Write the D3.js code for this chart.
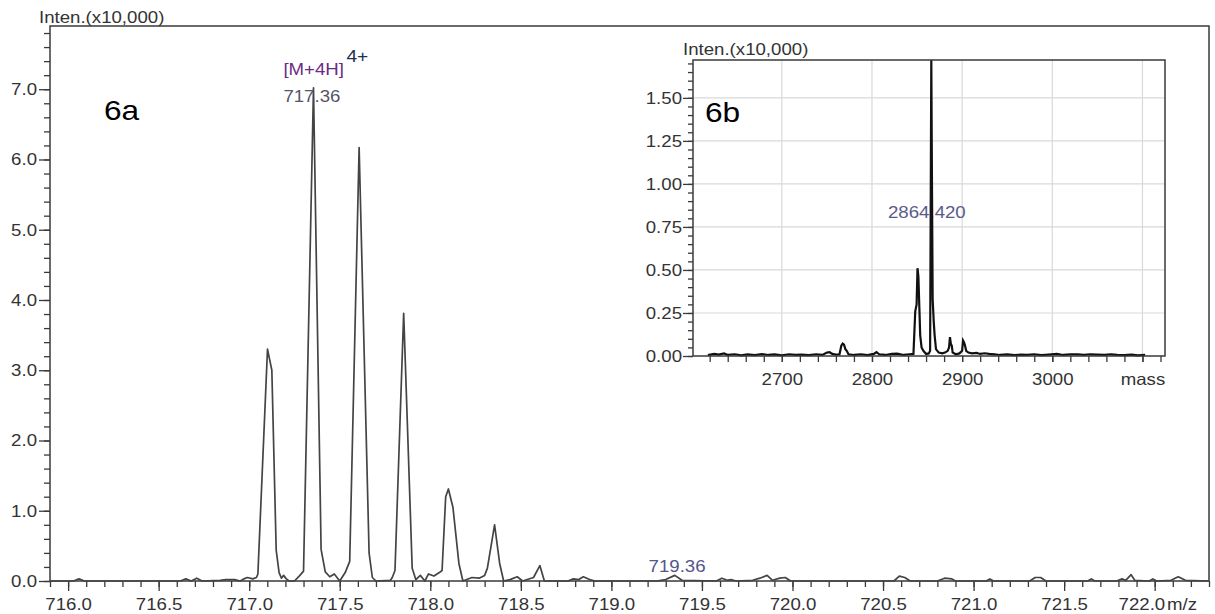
<!DOCTYPE html>
<html>
<head>
<meta charset="utf-8">
<script src="https://cdn.jsdelivr.net/npm/d3@7"></script>
<style>
  html, body { margin: 0; padding: 0; background: #fff; }
  svg { display: block; }
  text { font-family: "Liberation Sans", Arial, sans-serif; }
</style>
</head>
<body>
<svg id="chart" width="1215" height="614"></svg>
<script>
// ---------------- DATA ----------------
// Main spectrum 6a: [m/z, intensity (x10,000)]
const mainSpectrum = [
  [715.90,0.00],[716.03,0.00],[716.06,0.03],[716.09,0.00],[716.62,0.00],[716.65,0.03],
  [716.68,0.00],[716.71,0.04],[716.74,0.00],[716.84,0.01],[716.87,0.02],[716.92,0.02],
  [716.95,0.00],[716.97,0.03],[716.99,0.05],[717.02,0.03],[717.04,0.05],[717.048,0.10],
  [717.101,3.30],[717.125,3.00],[717.149,0.44],[717.165,0.12],[717.178,0.04],[717.19,0.08],
  [717.205,0.03],[717.22,0.00],[717.25,0.00],[717.28,0.08],[717.30,0.14],[717.355,7.02],
  [717.397,0.45],[717.42,0.13],[717.445,0.06],[717.47,0.10],[717.50,0.00],[717.53,0.12],
  [717.555,0.28],[717.607,6.17],[717.662,0.40],[717.68,0.05],[717.70,0.00],[717.78,0.01],
  [717.79,0.05],[717.805,0.15],[717.853,3.81],[717.90,0.18],[717.92,0.02],[717.945,0.08],
  [717.97,0.00],[717.99,0.10],[718.02,0.07],[718.05,0.12],[718.065,0.15],[718.085,1.20],
  [718.10,1.31],[718.125,1.05],[718.158,0.25],[718.18,0.00],[718.23,0.05],[718.27,0.04],
  [718.30,0.08],[718.315,0.18],[718.355,0.80],[718.383,0.25],[718.405,0.00],[718.44,0.02],
  [718.48,0.06],[718.51,0.00],[718.57,0.05],[718.605,0.22],[718.63,0.00],[718.76,0.00],
  [718.79,0.03],[718.82,0.02],[718.845,0.06],[718.88,0.02],[718.91,0.00],[719.25,0.00],
  [719.30,0.02],[719.35,0.08],[719.39,0.01],[719.58,0.00],[719.61,0.04],[719.64,0.01],
  [719.66,0.02],[719.69,0.00],[719.78,0.01],[719.82,0.04],[719.86,0.08],[719.89,0.01],
  [719.93,0.04],[719.96,0.05],[719.99,0.00],[720.56,0.00],[720.59,0.07],[720.62,0.05],
  [720.65,0.00],[720.80,0.00],[720.84,0.04],[720.88,0.03],[720.90,0.00],[721.07,0.00],
  [721.09,0.03],[721.11,0.00],[721.31,0.00],[721.34,0.05],[721.37,0.05],[721.40,0.00],
  [721.63,0.00],[721.65,0.03],[721.67,0.00],[721.79,0.00],[721.82,0.03],[721.84,0.01],
  [721.87,0.09],[721.89,0.01],[721.97,0.00],[721.99,0.03],[722.01,0.00],[722.09,0.01],
  [722.13,0.06],[722.17,0.01],[722.30,0.00]
];
const mainXDomain = [715.90, 722.30];
const mainYDomain = [0, 7.9];
const mainXMajor = [716.0,716.5,717.0,717.5,718.0,718.5,719.0,719.5,720.0,720.5,721.0,721.5,722.0];
const mainYMajor = [0,1,2,3,4,5,6,7];
const mainPeakLabels = [
  {x: 717.36, y: 7.02, text: "717.36"},
  {x: 719.36, y: 0.08, text: "719.36"}
];

// Inset spectrum 6b: [mass, intensity (x10,000)]
const insetSpectrum = [
  [2618,0.005],[2625,0.012],[2630,0.008],[2636,0.015],[2640,0.006],[2648,0.010],[2655,0.004],
  [2662,0.009],[2670,0.005],[2678,0.011],[2685,0.006],[2692,0.009],[2700,0.004],[2708,0.010],
  [2715,0.006],[2722,0.008],[2730,0.005],[2738,0.010],[2745,0.006],[2750,0.020],[2753,0.022],
  [2756,0.012],[2760,0.008],[2764,0.010],[2766,0.060],[2767.5,0.072],[2769,0.066],[2770.5,0.040],
  [2772,0.030],[2774,0.010],[2780,0.006],[2788,0.010],[2795,0.005],[2802,0.012],[2805,0.022],
  [2808,0.010],[2815,0.006],[2822,0.012],[2828,0.014],[2835,0.006],[2842,0.010],[2846,0.012],
  [2848,0.26],[2849.5,0.30],[2850.5,0.51],[2851.5,0.46],[2852.5,0.29],[2853.5,0.12],[2855,0.05],
  [2857,0.03],[2860,0.012],[2863,0.015],[2864.5,0.03],[2865.8,1.72],[2866.6,0.95],[2867.3,0.33],
  [2868.5,0.20],[2869.5,0.12],[2871,0.04],[2874,0.02],[2878,0.015],[2881,0.02],[2884,0.03],
  [2885.5,0.05],[2886.5,0.11],[2887.5,0.07],[2888.5,0.06],[2889.5,0.02],[2893,0.01],[2897,0.015],
  [2900,0.03],[2901,0.09],[2902,0.08],[2903,0.065],[2904.5,0.03],[2907,0.02],[2911,0.015],
  [2916,0.018],[2920,0.012],[2925,0.016],[2930,0.012],[2936,0.010],[2942,0.006],[2950,0.009],
  [2958,0.005],[2965,0.008],[2972,0.006],[2980,0.010],[2988,0.005],[2996,0.008],[3005,0.012],
  [3012,0.006],[3020,0.009],[3028,0.010],[3035,0.006],[3042,0.010],[3050,0.008],[3058,0.006],
  [3065,0.010],[3072,0.007],[3080,0.005],[3088,0.008],[3095,0.004],[3103,0.006]
];
const insetXDomain = [2601.5, 3125];
const insetYDomain = [0, 1.72];
const insetXMajor = [2700, 2800, 2900, 3000, 3100];
const insetYMajor = [0, 0.25, 0.5, 0.75, 1.0, 1.25, 1.5];
const insetPeakLabel = {x: 2865.8, text: "2864.420"};

// ---------------- DRAWING ----------------
const SX = 1.13;           // horizontal text stretch of the original rendering
const FS = 16.5;
const svg = d3.select("#chart");
const axisColor = "#3a3a3a";

function txt(g, x, y, s, o = {}) {
  return g.append("text")
    .attr("transform", `translate(${x},${y}) scale(${o.sx || SX},1)`)
    .attr("text-anchor", o.anchor || "start")
    .attr("font-size", o.size || FS)
    .attr("fill", o.fill || "#333")
    .text(s);
}

// ---- main chart ----
const M = {left: 50, right: 1209, top: 26, bottom: 581};
const x = d3.scaleLinear().domain(mainXDomain).range([M.left, M.right]);
const y = d3.scaleLinear().domain(mainYDomain).range([M.bottom, M.top]);

const mainG = svg.append("g");

// minor ticks
const xMinor = d3.range(7159, 7224).map(v => v / 10).filter(v => v >= mainXDomain[0] && v <= mainXDomain[1]);
mainG.append("g").attr("transform", `translate(0,${M.bottom})`)
  .call(d3.axisBottom(x).tickValues(xMinor).tickSize(6).tickFormat(""))
  .call(g => g.select(".domain").remove());
const yMinor = d3.range(0, 40).map(v => v * 0.2).filter(v => v <= mainYDomain[1]);
mainG.append("g").attr("transform", `translate(${M.left},0)`)
  .call(d3.axisLeft(y).tickValues(yMinor).tickSize(6).tickFormat(""))
  .call(g => g.select(".domain").remove());

// major axes
const xAx = mainG.append("g").attr("transform", `translate(0,${M.bottom})`)
  .call(d3.axisBottom(x).tickValues(mainXMajor).tickSize(10).tickPadding(7).tickFormat(d3.format(".1f")))
  .call(g => g.select(".domain").remove());
xAx.selectAll("text").attr("font-size", FS).attr("fill", "#333")
  .attr("transform", `scale(${SX},1)`)
  .attr("font-family", "Liberation Sans, Arial, sans-serif");
xAx.selectAll(".tick").filter(d => d === 722.0).select("text")
  .attr("text-anchor", "end").attr("x", 10 / SX);

const yAx = mainG.append("g").attr("transform", `translate(${M.left},0)`)
  .call(d3.axisLeft(y).tickValues(mainYMajor).tickSize(11).tickPadding(2).tickFormat(d3.format(".1f")))
  .call(g => g.select(".domain").remove());
yAx.selectAll("text").attr("font-size", FS).attr("fill", "#333")
  .attr("x", -13 / SX).attr("transform", `scale(${SX},1)`)
  .attr("font-family", "Liberation Sans, Arial, sans-serif");

mainG.selectAll(".tick line").attr("stroke", axisColor).attr("stroke-width", 1.3);

// frame
mainG.append("rect").attr("x", M.left).attr("y", M.top)
  .attr("width", M.right - M.left).attr("height", M.bottom - M.top)
  .attr("fill", "none").attr("stroke", axisColor).attr("stroke-width", 1.5);

// spectrum line
const line = d3.line().x(d => x(d[0])).y(d => y(d[1]));
mainG.append("path").datum(mainSpectrum)
  .attr("d", line).attr("fill", "none")
  .attr("stroke", "#444").attr("stroke-width", 1.7).attr("stroke-linejoin", "round");

// texts
txt(mainG, 39, 23, "Inten.(x10,000)");
txt(mainG, 1167, 610, "m/z");
txt(mainG, 104, 120, "6a", {size: 28, fill: "#000"});
txt(mainG, x(717.36) - 31, y(7.02) - 13, "[M+4H]", {fill: "#6a2c82"});
txt(mainG, x(717.36) + 32, y(7.02) - 26, "4+", {fill: "#22304e", size: 17});
txt(mainG, x(mainPeakLabels[0].x) - 31, y(mainPeakLabels[0].y) + 14, mainPeakLabels[0].text, {fill: "#55556a"});
txt(mainG, x(mainPeakLabels[1].x) - 28, y(mainPeakLabels[1].y) - 3, mainPeakLabels[1].text, {fill: "#55558a"});

// ---- inset ----
const I = {left: 693, right: 1165, top: 60, bottom: 356};
const xi = d3.scaleLinear().domain(insetXDomain).range([I.left, I.right]);
const yi = d3.scaleLinear().domain(insetYDomain).range([I.bottom, I.top]);
const inG = svg.append("g");

inG.append("rect").attr("x", I.left).attr("y", I.top)
  .attr("width", I.right - I.left).attr("height", I.bottom - I.top).attr("fill", "#fff");

// grid
inG.append("g").selectAll("line.v").data(insetXMajor).join("line")
  .attr("x1", d => xi(d)).attr("x2", d => xi(d)).attr("y1", I.top).attr("y2", I.bottom)
  .attr("stroke", "#d9d9d9").attr("stroke-width", 1.2);
inG.append("g").selectAll("line.h").data(insetYMajor.filter(d => d > 0)).join("line")
  .attr("x1", I.left).attr("x2", I.right).attr("y1", d => yi(d)).attr("y2", d => yi(d))
  .attr("stroke", "#d9d9d9").attr("stroke-width", 1.2);

// minor ticks
const xiMinor = d3.range(2620, 3125, 20);
inG.append("g").attr("transform", `translate(0,${I.bottom})`)
  .call(d3.axisBottom(xi).tickValues(xiMinor).tickSize(6).tickFormat(""))
  .call(g => g.select(".domain").remove());
const yiMinor = d3.range(0, 35).map(v => v * 0.05).filter(v => v <= insetYDomain[1] + 1e-9);
inG.append("g").attr("transform", `translate(${I.left},0)`)
  .call(d3.axisLeft(yi).tickValues(yiMinor).tickSize(5).tickFormat(""))
  .call(g => g.select(".domain").remove());

const xiAx = inG.append("g").attr("transform", `translate(0,${I.bottom})`)
  .call(d3.axisBottom(xi).tickValues(insetXMajor).tickSize(6).tickPadding(11)
    .tickFormat(d => d === 3100 ? "mass" : d3.format("d")(d)))
  .call(g => g.select(".domain").remove());
xiAx.selectAll("text").attr("font-size", FS).attr("fill", "#333")
  .attr("transform", `scale(${SX},1)`)
  .attr("font-family", "Liberation Sans, Arial, sans-serif");

const yiAx = inG.append("g").attr("transform", `translate(${I.left},0)`)
  .call(d3.axisLeft(yi).tickValues(insetYMajor).tickSize(10).tickPadding(1).tickFormat(d3.format(".2f")))
  .call(g => g.select(".domain").remove());
yiAx.selectAll("text").attr("font-size", FS).attr("fill", "#333")
  .attr("x", -11 / SX).attr("transform", `scale(${SX},1)`)
  .attr("font-family", "Liberation Sans, Arial, sans-serif");

inG.selectAll(".tick line").attr("stroke", axisColor).attr("stroke-width", 1.3);

// label under the peak line
txt(inG, 888, 218, insetPeakLabel.text, {fill: "#5a5a88"});

// spectrum
const lineI = d3.line().x(d => xi(d[0])).y(d => yi(d[1]));
inG.append("path").datum(insetSpectrum)
  .attr("d", lineI).attr("fill", "none")
  .attr("stroke", "#111").attr("stroke-width", 2.2).attr("stroke-linejoin", "miter");

inG.append("rect").attr("x", I.left).attr("y", I.top)
  .attr("width", I.right - I.left).attr("height", I.bottom - I.top)
  .attr("fill", "none").attr("stroke", axisColor).attr("stroke-width", 1.5);

txt(inG, 683, 55, "Inten.(x10,000)");
txt(inG, 705, 122, "6b", {size: 28, fill: "#000"});
</script>
</body>
</html>
